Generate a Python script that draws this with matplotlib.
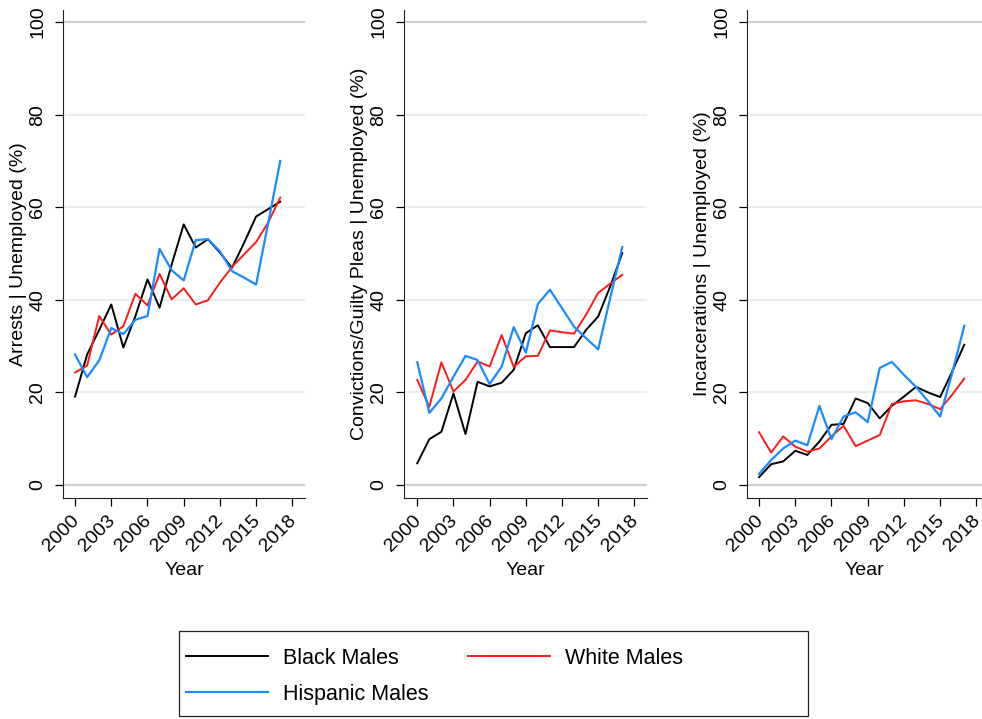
import numpy as np
import matplotlib
matplotlib.use('Agg')
import matplotlib.pyplot as plt
import matplotlib.transforms as mtransforms
from matplotlib.lines import Line2D
from matplotlib.patches import Rectangle

plt.rcParams['font.family'] = ['Liberation Sans', 'DejaVu Sans']

# Datos (2000-2017)
years = np.arange(2000, 2018)

arrests_black = [19.1, 28.2, 33.5, 39.0, 29.7, 36.5, 44.4, 38.3, 47.6, 56.3,
                 51.3, 53.1, 50.2, 46.9, 52.3, 58.0, 59.6, 61.2]
arrests_white = [24.3, 25.8, 36.5, 32.5, 34.3, 41.3, 38.8, 45.6, 40.1, 42.5,
                 39.0, 39.9, 43.7, 47.1, 49.8, 52.5, 56.7, 62.1]
arrests_hisp = [28.2, 23.3, 26.9, 33.9, 32.6, 35.7, 36.5, 51.0, 46.4, 44.2,
                52.9, 53.1, 50.5, 46.2, 44.8, 43.3, 56.6, 70.0]

conv_black = [4.7, 9.9, 11.5, 19.8, 11.0, 22.3, 21.3, 22.1, 24.9, 32.8,
              34.5, 29.8, 29.8, 29.8, 33.5, 36.4, 42.9, 50.1]
conv_white = [22.7, 16.9, 26.5, 20.2, 22.7, 26.7, 25.6, 32.4, 25.5, 27.8,
              27.9, 33.4, 33.0, 32.7, 36.8, 41.5, 43.5, 45.4]
conv_hisp = [26.5, 15.6, 18.7, 23.4, 27.9, 27.0, 21.8, 25.6, 34.1, 28.6,
             39.1, 42.2, 38.2, 34.2, 31.7, 29.3, 40.4, 51.4]

inc_black = [1.7, 4.5, 5.1, 7.4, 6.5, 9.4, 13.0, 13.2, 18.7, 17.7,
             14.4, 17.1, 19.1, 21.2, 20.0, 19.0, 24.5, 30.3]
inc_white = [11.4, 7.0, 10.5, 8.3, 7.2, 7.9, 10.5, 12.8, 8.4, 9.6,
             10.8, 17.5, 18.1, 18.3, 17.5, 16.4, 19.5, 23.0]
inc_hisp = [2.4, 5.4, 7.9, 9.6, 8.6, 17.1, 9.9, 14.8, 15.7, 13.6,
            25.3, 26.6, 23.8, 21.2, 18.1, 14.8, 24.2, 34.4]

ylabels = ['Arrests | Unemployed (%)',
           'Convictions/Guilty Pleas | Unemployed (%)',
           'Incarcerations | Unemployed (%)']
series = [(arrests_black, arrests_white, arrests_hisp),
          (conv_black, conv_white, conv_hisp),
          (inc_black, inc_white, inc_hisp)]

c_black = '#000000'
c_white = '#FF1A1A'
c_hisp = '#1A8CFF'

W, H = 982, 719
fig = plt.figure(figsize=(W / 100, H / 100), dpi=100)

# posiciones de los paneles en pixeles (izq, der, xlim izq, xlim der)
paneles = [(63, 305, 1999.0, 2019.05),
           (404, 647, 1998.9, 2019.05),
           (747, 982, 1999.0, 2018.47)]
top_px, bot_px = 10, 498
fs = 14

# pequeño desplazamiento de las etiquetas del eje x (izquierda y abajo)
desplazar = mtransforms.ScaledTranslation(-5 / 100, -3 / 100, fig.dpi_scale_trans)

for (izq, der, x0, x1), (b, w, h), lab in zip(paneles, series, ylabels):
    ax = fig.add_axes([izq / W, 1 - bot_px / H, (der - izq) / W, (bot_px - top_px) / H])
    for g in [20, 40, 60, 80]:
        ax.axhline(g, color='#E8EFF1', lw=1.5, zorder=0)
    for g in [0, 100]:
        ax.axhline(g, color='#D0D0D0', lw=1.6, zorder=0)
    ax.plot(years, b, color=c_black, lw=1.4)
    ax.plot(years, w, color=c_white, lw=1.4)
    ax.plot(years, h, color=c_hisp, lw=1.6)
    ax.set_xlim(x0, x1)
    ax.set_ylim(-2.8, 102.6)
    ax.set_yticks([0, 20, 40, 60, 80, 100])
    ax.set_xticks(np.arange(2000, 2019, 3))
    ax.tick_params(axis='y', length=6, width=0.9, pad=6, labelsize=fs,
                   labelrotation=90)
    for t in ax.get_yticklabels():
        t.set_va('center')
    ax.tick_params(axis='x', length=6, width=0.9, pad=2, labelsize=fs)
    for t in ax.get_xticklabels():
        t.set_rotation(45)
        t.set_ha('right')
        t.set_rotation_mode('anchor')
        t.set_transform(t.get_transform() + desplazar)
    ax.spines['top'].set_visible(False)
    ax.spines['right'].set_visible(False)
    ax.spines['left'].set_color('#222222')
    ax.spines['bottom'].set_color('#222222')
    ax.set_ylabel(lab, fontsize=fs, labelpad=2)
    ax.set_xlabel('Year', fontsize=fs, labelpad=5)

# leyenda con marco dibujado aparte (como en Stata)
handles = [Line2D([], [], color=c_black, lw=1.4),
           Line2D([], [], color=c_hisp, lw=1.6),
           Line2D([], [], color=c_white, lw=1.4)]
names = ['Black Males', 'Hispanic Males', 'White Males']
fig.legend(handles, names, ncol=2, loc='upper left',
           bbox_to_anchor=(186 / W, 1 - 648 / H), fontsize=15.5,
           frameon=False, handlelength=3.8, handletextpad=0.7,
           columnspacing=1.86, labelspacing=0.68, borderpad=0,
           borderaxespad=0)
fig.add_artist(Rectangle((179 / W, 1 - 716 / H), 629 / W, 85 / H,
                         transform=fig.transFigure, fill=False,
                         edgecolor='#222222', lw=0.9))

fig.savefig('out.png', dpi=100, facecolor='white')
